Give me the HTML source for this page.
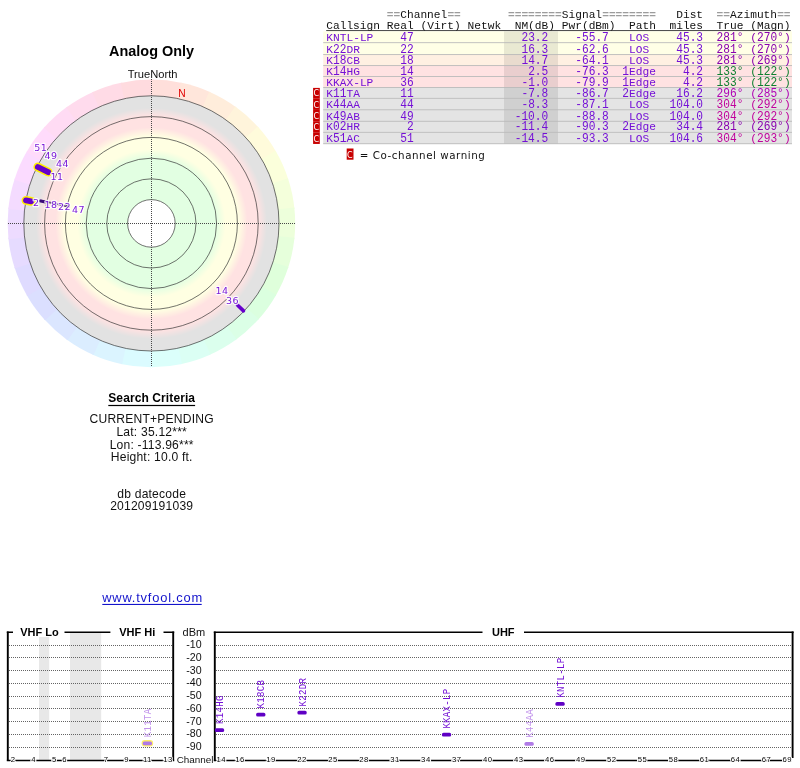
<!DOCTYPE html>
<html lang="en"><head><meta charset="utf-8"><title>TV Fool - Analog Only</title>
<style>html,body{margin:0;padding:0;background:#fff;}body{width:800px;height:768px;overflow:hidden;position:relative;}svg{position:absolute;left:0;top:0;display:block}text{font-family:"Liberation Sans", Arial, sans-serif;}.m{font-family:"Liberation Mono", "DejaVu Sans Mono", monospace;font-size:11.2px;}.lb{font-family:"DejaVu Sans", "Liberation Sans", sans-serif;font-size:9.5px;letter-spacing:0.45px;fill:#7a1ad8;stroke:#fff;stroke-width:2.4px;stroke-opacity:.85;paint-order:stroke;stroke-linejoin:round}.cs{font-family:"Liberation Mono", "DejaVu Sans Mono", monospace;font-size:9px;letter-spacing:0.35px}.ch{font-size:7.7px;letter-spacing:0.5px;fill:#000;stroke:#fff;stroke-width:2px;paint-order:stroke;text-anchor:middle}.ax{font-size:10.6px;text-anchor:end;fill:#111}</style></head><body>
<svg width="800" height="768" viewBox="0 0 800 768">
<defs><radialGradient id="rg" gradientUnits="userSpaceOnUse" cx="151.4" cy="223.4" r="127.6">
<stop offset="0.0000" stop-color="#ffffff"/>
<stop offset="0.1865" stop-color="#ffffff"/>
<stop offset="0.1865" stop-color="#e2ffe2"/>
<stop offset="0.5055" stop-color="#e2ffe2"/>
<stop offset="0.5799" stop-color="#ffffe2"/>
<stop offset="0.6818" stop-color="#ffffe2"/>
<stop offset="0.7524" stop-color="#ffe2e2"/>
<stop offset="0.8386" stop-color="#ffe2e2"/>
<stop offset="0.9052" stop-color="#e2e2e2"/>
<stop offset="1.0000" stop-color="#e2e2e2"/>
</radialGradient></defs>
<path d="M151.4 223.4L150.65 79.60A143.8 143.8 0 0 1 182.03 82.90Z" fill="#ffdfdb"/>
<path d="M151.4 223.4L180.56 82.59A143.8 143.8 0 0 1 210.58 92.34Z" fill="#ffe6db"/>
<path d="M151.4 223.4L209.20 91.73A143.8 143.8 0 0 1 236.53 107.51Z" fill="#ffeddb"/>
<path d="M151.4 223.4L235.31 106.62A143.8 143.8 0 0 1 258.77 127.74Z" fill="#fff4db"/>
<path d="M151.4 223.4L257.76 126.62A143.8 143.8 0 0 1 276.31 152.15Z" fill="#fffbdb"/>
<path d="M151.4 223.4L275.56 150.85A143.8 143.8 0 0 1 288.39 179.68Z" fill="#fbffdb"/>
<path d="M151.4 223.4L287.93 178.25A143.8 143.8 0 0 1 294.49 209.12Z" fill="#f4ffdb"/>
<path d="M151.4 223.4L294.33 207.62A143.8 143.8 0 0 1 294.33 239.18Z" fill="#edffdb"/>
<path d="M151.4 223.4L294.49 237.68A143.8 143.8 0 0 1 287.93 268.55Z" fill="#e6ffdb"/>
<path d="M151.4 223.4L288.39 267.12A143.8 143.8 0 0 1 275.56 295.95Z" fill="#dfffdb"/>
<path d="M151.4 223.4L276.31 294.65A143.8 143.8 0 0 1 257.76 320.18Z" fill="#dbffdf"/>
<path d="M151.4 223.4L258.77 319.06A143.8 143.8 0 0 1 235.31 340.18Z" fill="#dbffe6"/>
<path d="M151.4 223.4L236.53 339.29A143.8 143.8 0 0 1 209.20 355.07Z" fill="#dbffed"/>
<path d="M151.4 223.4L210.58 354.46A143.8 143.8 0 0 1 180.56 364.21Z" fill="#dbfff4"/>
<path d="M151.4 223.4L182.03 363.90A143.8 143.8 0 0 1 150.65 367.20Z" fill="#dbfffb"/>
<path d="M151.4 223.4L152.15 367.20A143.8 143.8 0 0 1 120.77 363.90Z" fill="#dbfbff"/>
<path d="M151.4 223.4L122.24 364.21A143.8 143.8 0 0 1 92.22 354.46Z" fill="#dbf4ff"/>
<path d="M151.4 223.4L93.60 355.07A143.8 143.8 0 0 1 66.27 339.29Z" fill="#dbedff"/>
<path d="M151.4 223.4L67.49 340.18A143.8 143.8 0 0 1 44.03 319.06Z" fill="#dbe6ff"/>
<path d="M151.4 223.4L45.04 320.18A143.8 143.8 0 0 1 26.49 294.65Z" fill="#dbdfff"/>
<path d="M151.4 223.4L27.24 295.95A143.8 143.8 0 0 1 14.41 267.12Z" fill="#dfdbff"/>
<path d="M151.4 223.4L14.87 268.55A143.8 143.8 0 0 1 8.31 237.68Z" fill="#e6dbff"/>
<path d="M151.4 223.4L8.47 239.18A143.8 143.8 0 0 1 8.47 207.62Z" fill="#eddbff"/>
<path d="M151.4 223.4L8.31 209.12A143.8 143.8 0 0 1 14.87 178.25Z" fill="#f4dbff"/>
<path d="M151.4 223.4L14.41 179.68A143.8 143.8 0 0 1 27.24 150.85Z" fill="#fbdbff"/>
<path d="M151.4 223.4L26.49 152.15A143.8 143.8 0 0 1 45.04 126.62Z" fill="#ffdbfb"/>
<path d="M151.4 223.4L44.03 127.74A143.8 143.8 0 0 1 67.49 106.62Z" fill="#ffdbf4"/>
<path d="M151.4 223.4L66.27 107.51A143.8 143.8 0 0 1 93.60 91.73Z" fill="#ffdbed"/>
<path d="M151.4 223.4L92.22 92.34A143.8 143.8 0 0 1 122.24 82.59Z" fill="#ffdbe6"/>
<path d="M151.4 223.4L120.77 82.90A143.8 143.8 0 0 1 152.15 79.60Z" fill="#ffdbdf"/>
<circle cx="151.4" cy="223.4" r="127.6" fill="url(#rg)"/>
<circle cx="151.4" cy="223.4" r="23.8" fill="none" stroke="#303030" stroke-width="0.68"/>
<circle cx="151.4" cy="223.4" r="44.6" fill="none" stroke="#303030" stroke-width="0.68"/>
<circle cx="151.4" cy="223.4" r="65.2" fill="none" stroke="#303030" stroke-width="0.68"/>
<circle cx="151.4" cy="223.4" r="86" fill="none" stroke="#303030" stroke-width="0.68"/>
<circle cx="151.4" cy="223.4" r="106.8" fill="none" stroke="#303030" stroke-width="0.68"/>
<circle cx="151.4" cy="223.4" r="127.6" fill="none" stroke="#303030" stroke-width="0.68"/>
<path d="M7.5 223.5H295.5M151.5 79V367" stroke="#484848" stroke-width="1" stroke-dasharray="1 1" fill="none" shape-rendering="crispEdges"/>
<text x="178.2" y="96.8" font-size="10.2" fill="#e00000">N</text>
<path d="M40.71 200.68L69.12 206.51" stroke="#2a0850" stroke-width="1.8" stroke-linecap="round" fill="none" />
<path d="M40.63 201.06L45.53 202.05" stroke="#3a0a78" stroke-width="3" stroke-linecap="round" fill="none" />
<path d="M37.82 167.02L48.21 172.18" stroke="#ffee00" stroke-width="8.8" stroke-linecap="round" fill="none" />
<path d="M37.82 167.02L48.21 172.18" stroke="#6600cc" stroke-width="5.8" stroke-linecap="round" fill="none" />
<path d="M25.99 200.38L31.21 201.34" stroke="#ffee00" stroke-width="8.8" stroke-linecap="round" fill="none" />
<path d="M25.99 200.38L31.21 201.34" stroke="#6600cc" stroke-width="5.8" stroke-linecap="round" fill="none" />
<path d="M243.52 310.82L237.43 305.04" stroke="#6600cc" stroke-width="3.6" stroke-linecap="round" fill="none" />
<text class="lb" x="34.3" y="150.6">51</text>
<text class="lb" x="44.5" y="159.2">49</text>
<text class="lb" x="56.1" y="167.2">44</text>
<text class="lb" x="50.4" y="179.8">11</text>
<text class="lb" x="33" y="206.2">2</text>
<text class="lb" x="44.4" y="207.6">18</text>
<text class="lb" x="58" y="209.6">22</text>
<text class="lb" x="72" y="212.9">47</text>
<text class="lb" x="215.4" y="294">14</text>
<text class="lb" x="226" y="304">36</text>
<text x="151.6" y="55.8" font-size="14.45" font-weight="bold" text-anchor="middle" fill="#000">Analog Only</text>
<text x="152.6" y="78" font-size="11.15" text-anchor="middle" fill="#111">TrueNorth</text>
<text x="151.7" y="401.8" font-size="12" font-weight="bold" text-anchor="middle" letter-spacing="0.1" fill="#000">Search Criteria</text>
<rect x="108.3" y="404.9" width="86.8" height="1.2" fill="#000"/>
<text x="151.7" y="423.3" font-size="12.1" text-anchor="middle" letter-spacing="0.2" fill="#111">CURRENT+PENDING</text>
<text x="151.7" y="436.4" font-size="12.1" text-anchor="middle" letter-spacing="0.2" fill="#111">Lat: 35.12***</text>
<text x="151.7" y="448.8" font-size="12.1" text-anchor="middle" letter-spacing="0.2" fill="#111">Lon: -113.96***</text>
<text x="151.7" y="460.8" font-size="12.1" text-anchor="middle" letter-spacing="0.2" fill="#111">Height: 10.0 ft.</text>
<text x="151.7" y="497.6" font-size="12.1" text-anchor="middle" letter-spacing="0.2" fill="#111">db datecode</text>
<text x="151.7" y="509.9" font-size="12.1" text-anchor="middle" letter-spacing="0.2" fill="#111">201209191039</text>
<text x="152.6" y="602" font-size="12.9" text-anchor="middle" letter-spacing="0.8" fill="#1414cc">www.tvfool.com</text>
<rect x="102.3" y="603.9" width="99.4" height="1.1" fill="#1414cc"/>
<rect x="323.2" y="31.3" width="468.8" height="11.6" fill="#ffffe6"/>
<rect x="323.2" y="42.7" width="468.8" height="12.1" fill="#ffffe6"/>
<rect x="323.2" y="54.6" width="468.8" height="11.2" fill="#fff0e2"/>
<rect x="323.2" y="65.6" width="468.8" height="11.1" fill="#ffe2e2"/>
<rect x="323.2" y="76.5" width="468.8" height="11.2" fill="#ffe2e2"/>
<rect x="323.2" y="87.5" width="468.8" height="11" fill="#e4e4e4"/>
<rect x="323.2" y="98.3" width="468.8" height="11.7" fill="#e4e4e4"/>
<rect x="323.2" y="109.8" width="468.8" height="11.65" fill="#e4e4e4"/>
<rect x="323.2" y="121.25" width="468.8" height="11.25" fill="#e4e4e4"/>
<rect x="323.2" y="132.3" width="468.8" height="11.65" fill="#e4e4e4"/>
<rect x="504" y="31.3" width="54" height="112.45" fill="#000" fill-opacity="0.085"/>
<rect x="323.2" y="42.28" width="468.8" height="0.85" fill="#b8b8b8"/>
<rect x="323.2" y="54.18" width="468.8" height="0.85" fill="#b8b8b8"/>
<rect x="323.2" y="65.18" width="468.8" height="0.85" fill="#b8b8b8"/>
<rect x="323.2" y="76.08" width="468.8" height="0.85" fill="#b8b8b8"/>
<rect x="323.2" y="87.08" width="468.8" height="0.85" fill="#b8b8b8"/>
<rect x="323.2" y="97.88" width="468.8" height="0.85" fill="#b8b8b8"/>
<rect x="323.2" y="109.38" width="468.8" height="0.85" fill="#b8b8b8"/>
<rect x="323.2" y="120.83" width="468.8" height="0.85" fill="#b8b8b8"/>
<rect x="323.2" y="131.88" width="468.8" height="0.85" fill="#b8b8b8"/>
<rect x="323.2" y="143.33" width="468.8" height="0.85" fill="#b8b8b8"/>
<text class="m" x="386.82" y="17.5" fill="#9c9c9c" font-weight="bold">==</text>
<text class="m" x="400.28" y="17.5" fill="#111">Channel</text>
<text class="m" x="447.39" y="17.5" fill="#9c9c9c" font-weight="bold">==</text>
<text class="m" x="507.96" y="17.5" fill="#9c9c9c" font-weight="bold">========</text>
<text class="m" x="561.80" y="17.5" fill="#111">Signal</text>
<text class="m" x="602.18" y="17.5" fill="#9c9c9c" font-weight="bold">========</text>
<text class="m" x="676.21" y="17.5" fill="#111">Dist</text>
<text class="m" x="716.59" y="17.5" fill="#9c9c9c" font-weight="bold">==</text>
<text class="m" x="730.05" y="17.5" fill="#111">Azimuth</text>
<text class="m" x="777.16" y="17.5" fill="#9c9c9c" font-weight="bold">==</text>
<text class="m" x="326.25" y="28.75" fill="#111">Callsign</text>
<text class="m" x="386.82" y="28.75" fill="#111">Real</text>
<text class="m" x="420.47" y="28.75" fill="#111">(Virt)</text>
<text class="m" x="467.58" y="28.75" fill="#111">Netwk</text>
<text class="m" x="514.69" y="28.75" fill="#111">NM(dB)</text>
<text class="m" x="561.80" y="28.75" fill="#111">Pwr(dBm)</text>
<text class="m" x="629.10" y="28.75" fill="#111">Path</text>
<text class="m" x="669.48" y="28.75" fill="#111">miles</text>
<text class="m" x="716.59" y="28.75" fill="#111">True</text>
<text class="m" x="750.24" y="28.75" fill="#111">(Magn)</text>
<rect x="326.2" y="30.15" width="464.5" height="0.9" fill="#333"/>
<text class="m" x="326.25" y="40.7" fill="#7410d6">KNTL</text>
<text class="m" x="353.17" y="40.7" fill="#7410d6">-</text>
<text class="m" x="359.90" y="40.7" fill="#7410d6">LP</text>
<text class="m" transform="translate(400.28 40.7) scale(1 1.14)" fill="#7410d6">47</text>
<text class="m" transform="translate(521.42 40.7) scale(1 1.14)" fill="#7410d6">23.2</text>
<text class="m" transform="translate(575.26 40.7) scale(1 1.14)" fill="#7410d6">-55.7</text>
<text class="m" x="629.10" y="40.7" fill="#7410d6">LOS</text>
<text class="m" transform="translate(676.21 40.7) scale(1 1.14)" fill="#7410d6">45.3</text>
<text class="m" transform="translate(716.59 40.7) scale(1 1.14)" fill="#8800b0">281°</text>
<text class="m" x="750.24" y="40.7" fill="#8800b0">(</text>
<text class="m" transform="translate(756.97 40.7) scale(1 1.14)" fill="#8800b0">270°</text>
<text class="m" x="783.89" y="40.7" fill="#8800b0">)</text>
<text class="m" x="326.25" y="52.6" fill="#7410d6">K</text>
<text class="m" transform="translate(332.98 52.6) scale(1 1.14)" fill="#7410d6">22</text>
<text class="m" x="346.44" y="52.6" fill="#7410d6">DR</text>
<text class="m" transform="translate(400.28 52.6) scale(1 1.14)" fill="#7410d6">22</text>
<text class="m" transform="translate(521.42 52.6) scale(1 1.14)" fill="#7410d6">16.3</text>
<text class="m" transform="translate(575.26 52.6) scale(1 1.14)" fill="#7410d6">-62.6</text>
<text class="m" x="629.10" y="52.6" fill="#7410d6">LOS</text>
<text class="m" transform="translate(676.21 52.6) scale(1 1.14)" fill="#7410d6">45.3</text>
<text class="m" transform="translate(716.59 52.6) scale(1 1.14)" fill="#8800b0">281°</text>
<text class="m" x="750.24" y="52.6" fill="#8800b0">(</text>
<text class="m" transform="translate(756.97 52.6) scale(1 1.14)" fill="#8800b0">270°</text>
<text class="m" x="783.89" y="52.6" fill="#8800b0">)</text>
<text class="m" x="326.25" y="63.6" fill="#7410d6">K</text>
<text class="m" transform="translate(332.98 63.6) scale(1 1.14)" fill="#7410d6">18</text>
<text class="m" x="346.44" y="63.6" fill="#7410d6">CB</text>
<text class="m" transform="translate(400.28 63.6) scale(1 1.14)" fill="#7410d6">18</text>
<text class="m" transform="translate(521.42 63.6) scale(1 1.14)" fill="#7410d6">14.7</text>
<text class="m" transform="translate(575.26 63.6) scale(1 1.14)" fill="#7410d6">-64.1</text>
<text class="m" x="629.10" y="63.6" fill="#7410d6">LOS</text>
<text class="m" transform="translate(676.21 63.6) scale(1 1.14)" fill="#7410d6">45.3</text>
<text class="m" transform="translate(716.59 63.6) scale(1 1.14)" fill="#8800b0">281°</text>
<text class="m" x="750.24" y="63.6" fill="#8800b0">(</text>
<text class="m" transform="translate(756.97 63.6) scale(1 1.14)" fill="#8800b0">269°</text>
<text class="m" x="783.89" y="63.6" fill="#8800b0">)</text>
<text class="m" x="326.25" y="74.5" fill="#7410d6">K</text>
<text class="m" transform="translate(332.98 74.5) scale(1 1.14)" fill="#7410d6">14</text>
<text class="m" x="346.44" y="74.5" fill="#7410d6">HG</text>
<text class="m" transform="translate(400.28 74.5) scale(1 1.14)" fill="#7410d6">14</text>
<text class="m" transform="translate(528.15 74.5) scale(1 1.14)" fill="#7410d6">2.5</text>
<text class="m" transform="translate(575.26 74.5) scale(1 1.14)" fill="#7410d6">-76.3</text>
<text class="m" transform="translate(622.37 74.5) scale(1 1.14)" fill="#7410d6">1</text>
<text class="m" x="629.10" y="74.5" fill="#7410d6">Edge</text>
<text class="m" transform="translate(682.94 74.5) scale(1 1.14)" fill="#7410d6">4.2</text>
<text class="m" transform="translate(716.59 74.5) scale(1 1.14)" fill="#0e8030">133°</text>
<text class="m" x="750.24" y="74.5" fill="#0e8030">(</text>
<text class="m" transform="translate(756.97 74.5) scale(1 1.14)" fill="#0e8030">122°</text>
<text class="m" x="783.89" y="74.5" fill="#0e8030">)</text>
<text class="m" x="326.25" y="85.5" fill="#7410d6">KKAX</text>
<text class="m" x="353.17" y="85.5" fill="#7410d6">-</text>
<text class="m" x="359.90" y="85.5" fill="#7410d6">LP</text>
<text class="m" transform="translate(400.28 85.5) scale(1 1.14)" fill="#7410d6">36</text>
<text class="m" transform="translate(521.42 85.5) scale(1 1.14)" fill="#7410d6">-1.0</text>
<text class="m" transform="translate(575.26 85.5) scale(1 1.14)" fill="#7410d6">-79.9</text>
<text class="m" transform="translate(622.37 85.5) scale(1 1.14)" fill="#7410d6">1</text>
<text class="m" x="629.10" y="85.5" fill="#7410d6">Edge</text>
<text class="m" transform="translate(682.94 85.5) scale(1 1.14)" fill="#7410d6">4.2</text>
<text class="m" transform="translate(716.59 85.5) scale(1 1.14)" fill="#0e8030">133°</text>
<text class="m" x="750.24" y="85.5" fill="#0e8030">(</text>
<text class="m" transform="translate(756.97 85.5) scale(1 1.14)" fill="#0e8030">122°</text>
<text class="m" x="783.89" y="85.5" fill="#0e8030">)</text>
<text class="m" x="326.25" y="96.6" fill="#7410d6">K</text>
<text class="m" transform="translate(332.98 96.6) scale(1 1.14)" fill="#7410d6">11</text>
<text class="m" x="346.44" y="96.6" fill="#7410d6">TA</text>
<text class="m" transform="translate(400.28 96.6) scale(1 1.14)" fill="#7410d6">11</text>
<text class="m" transform="translate(521.42 96.6) scale(1 1.14)" fill="#7410d6">-7.8</text>
<text class="m" transform="translate(575.26 96.6) scale(1 1.14)" fill="#7410d6">-86.7</text>
<text class="m" transform="translate(622.37 96.6) scale(1 1.14)" fill="#7410d6">2</text>
<text class="m" x="629.10" y="96.6" fill="#7410d6">Edge</text>
<text class="m" transform="translate(676.21 96.6) scale(1 1.14)" fill="#7410d6">16.2</text>
<text class="m" transform="translate(716.59 96.6) scale(1 1.14)" fill="#b000b4">296°</text>
<text class="m" x="750.24" y="96.6" fill="#b000b4">(</text>
<text class="m" transform="translate(756.97 96.6) scale(1 1.14)" fill="#b000b4">285°</text>
<text class="m" x="783.89" y="96.6" fill="#b000b4">)</text>
<rect x="313.1" y="87.9" width="6.7" height="10.5" fill="#c80000"/>
<text x="316.2" y="96.4" font-size="8" fill="#fff" text-anchor="middle" style="font-family:'DejaVu Sans', 'Liberation Sans', sans-serif">C</text>
<text class="m" x="326.25" y="108.1" fill="#7410d6">K</text>
<text class="m" transform="translate(332.98 108.1) scale(1 1.14)" fill="#7410d6">44</text>
<text class="m" x="346.44" y="108.1" fill="#7410d6">AA</text>
<text class="m" transform="translate(400.28 108.1) scale(1 1.14)" fill="#7410d6">44</text>
<text class="m" transform="translate(521.42 108.1) scale(1 1.14)" fill="#7410d6">-8.3</text>
<text class="m" transform="translate(575.26 108.1) scale(1 1.14)" fill="#7410d6">-87.1</text>
<text class="m" x="629.10" y="108.1" fill="#7410d6">LOS</text>
<text class="m" transform="translate(669.48 108.1) scale(1 1.14)" fill="#7410d6">104.0</text>
<text class="m" transform="translate(716.59 108.1) scale(1 1.14)" fill="#c0009c">304°</text>
<text class="m" x="750.24" y="108.1" fill="#c0009c">(</text>
<text class="m" transform="translate(756.97 108.1) scale(1 1.14)" fill="#c0009c">292°</text>
<text class="m" x="783.89" y="108.1" fill="#c0009c">)</text>
<rect x="313.1" y="98.3" width="6.7" height="11.6" fill="#c80000"/>
<text x="316.2" y="107.9" font-size="8" fill="#fff" text-anchor="middle" style="font-family:'DejaVu Sans', 'Liberation Sans', sans-serif">C</text>
<text class="m" x="326.25" y="119.55" fill="#7410d6">K</text>
<text class="m" transform="translate(332.98 119.55) scale(1 1.14)" fill="#7410d6">49</text>
<text class="m" x="346.44" y="119.55" fill="#7410d6">AB</text>
<text class="m" transform="translate(400.28 119.55) scale(1 1.14)" fill="#7410d6">49</text>
<text class="m" transform="translate(514.69 119.55) scale(1 1.14)" fill="#7410d6">-10.0</text>
<text class="m" transform="translate(575.26 119.55) scale(1 1.14)" fill="#7410d6">-88.8</text>
<text class="m" x="629.10" y="119.55" fill="#7410d6">LOS</text>
<text class="m" transform="translate(669.48 119.55) scale(1 1.14)" fill="#7410d6">104.0</text>
<text class="m" transform="translate(716.59 119.55) scale(1 1.14)" fill="#c0009c">304°</text>
<text class="m" x="750.24" y="119.55" fill="#c0009c">(</text>
<text class="m" transform="translate(756.97 119.55) scale(1 1.14)" fill="#c0009c">292°</text>
<text class="m" x="783.89" y="119.55" fill="#c0009c">)</text>
<rect x="313.1" y="109.8" width="6.7" height="11.55" fill="#c80000"/>
<text x="316.2" y="119.35" font-size="8" fill="#fff" text-anchor="middle" style="font-family:'DejaVu Sans', 'Liberation Sans', sans-serif">C</text>
<text class="m" x="326.25" y="130.3" fill="#7410d6">K</text>
<text class="m" transform="translate(332.98 130.3) scale(1 1.14)" fill="#7410d6">02</text>
<text class="m" x="346.44" y="130.3" fill="#7410d6">HR</text>
<text class="m" transform="translate(407.01 130.3) scale(1 1.14)" fill="#7410d6">2</text>
<text class="m" transform="translate(514.69 130.3) scale(1 1.14)" fill="#7410d6">-11.4</text>
<text class="m" transform="translate(575.26 130.3) scale(1 1.14)" fill="#7410d6">-90.3</text>
<text class="m" transform="translate(622.37 130.3) scale(1 1.14)" fill="#7410d6">2</text>
<text class="m" x="629.10" y="130.3" fill="#7410d6">Edge</text>
<text class="m" transform="translate(676.21 130.3) scale(1 1.14)" fill="#7410d6">34.4</text>
<text class="m" transform="translate(716.59 130.3) scale(1 1.14)" fill="#8800b0">281°</text>
<text class="m" x="750.24" y="130.3" fill="#8800b0">(</text>
<text class="m" transform="translate(756.97 130.3) scale(1 1.14)" fill="#8800b0">269°</text>
<text class="m" x="783.89" y="130.3" fill="#8800b0">)</text>
<rect x="313.1" y="121.25" width="6.7" height="11.15" fill="#c80000"/>
<text x="316.2" y="130.4" font-size="8" fill="#fff" text-anchor="middle" style="font-family:'DejaVu Sans', 'Liberation Sans', sans-serif">C</text>
<text class="m" x="326.25" y="141.75" fill="#7410d6">K</text>
<text class="m" transform="translate(332.98 141.75) scale(1 1.14)" fill="#7410d6">51</text>
<text class="m" x="346.44" y="141.75" fill="#7410d6">AC</text>
<text class="m" transform="translate(400.28 141.75) scale(1 1.14)" fill="#7410d6">51</text>
<text class="m" transform="translate(514.69 141.75) scale(1 1.14)" fill="#7410d6">-14.5</text>
<text class="m" transform="translate(575.26 141.75) scale(1 1.14)" fill="#7410d6">-93.3</text>
<text class="m" x="629.10" y="141.75" fill="#7410d6">LOS</text>
<text class="m" transform="translate(669.48 141.75) scale(1 1.14)" fill="#7410d6">104.6</text>
<text class="m" transform="translate(716.59 141.75) scale(1 1.14)" fill="#c0009c">304°</text>
<text class="m" x="750.24" y="141.75" fill="#c0009c">(</text>
<text class="m" transform="translate(756.97 141.75) scale(1 1.14)" fill="#c0009c">293°</text>
<text class="m" x="783.89" y="141.75" fill="#c0009c">)</text>
<rect x="313.1" y="132.3" width="6.7" height="11.65" fill="#c80000"/>
<text x="316.2" y="141.85" font-size="8" fill="#fff" text-anchor="middle" style="font-family:'DejaVu Sans', 'Liberation Sans', sans-serif">C</text>
<rect x="346.7" y="148.5" width="6.8" height="11.2" fill="#c80000"/>
<text x="349.9" y="158.4" font-size="8" fill="#fff" text-anchor="middle" style="font-family:'DejaVu Sans', 'Liberation Sans', sans-serif">C</text>
<text x="359.8" y="158.5" font-size="10.3" letter-spacing="0.55" fill="#111" style="font-family:'DejaVu Sans', 'Liberation Sans', sans-serif">= Co-channel warning</text>
<rect x="39" y="637" width="10.2" height="123.5" fill="#e8e8e8"/>
<rect x="70" y="632.9" width="31.2" height="127.6" fill="#e8e8e8"/>
<path d="M9 645.5H172M216 645.5H792M9 657.5H172M216 657.5H792M9 670.5H172M216 670.5H792M9 683.5H172M216 683.5H792M9 696.5H172M216 696.5H792M9 708.5H172M216 708.5H792M9 721.5H172M216 721.5H792M9 734.5H172M216 734.5H792M9 747.5H172M216 747.5H792" stroke="#646464" stroke-width="1" stroke-dasharray="1 1" fill="none" shape-rendering="crispEdges"/>
<path d="M7.8 631.6V760.6M173.2 631.6V760.6" stroke="#000" stroke-width="1.9" fill="none"/>
<path d="M6.8 632.2H13M64.5 632.2H110.4M163.5 632.2H174.2" stroke="#000" stroke-width="1.5" fill="none"/>
<path d="M6.8 760.5H174.2" stroke="#000" stroke-width="1.3" fill="none"/>
<path d="M214.8 631.6V760.6M792.6 631.6V758" stroke="#000" stroke-width="1.9" fill="none"/>
<path d="M213.8 632.2H482.5M524 632.2H793.6" stroke="#000" stroke-width="1.5" fill="none"/>
<path d="M213.8 760.5H792" stroke="#000" stroke-width="1.3" fill="none"/>
<text x="20.2" y="636.2" font-size="11" font-weight="bold" fill="#000">VHF Lo</text>
<text x="119.2" y="636.2" font-size="11" font-weight="bold" fill="#000">VHF Hi</text>
<text x="503.3" y="636.2" font-size="11" font-weight="bold" fill="#000" text-anchor="middle">UHF</text>
<text x="182.6" y="635.8" font-size="11" fill="#111">dBm</text>
<text class="ax" x="201.6" y="648.1">-10</text>
<text class="ax" x="201.6" y="660.85">-20</text>
<text class="ax" x="201.6" y="673.6">-30</text>
<text class="ax" x="201.6" y="686.35">-40</text>
<text class="ax" x="201.6" y="699.1">-50</text>
<text class="ax" x="201.6" y="711.85">-60</text>
<text class="ax" x="201.6" y="724.6">-70</text>
<text class="ax" x="201.6" y="737.35">-80</text>
<text class="ax" x="201.6" y="750.1">-90</text>
<text x="176.7" y="762.8" font-size="9.9" fill="#111">Channel</text>
<text class="ch" x="13.1" y="761.9">2</text>
<text class="ch" x="33.76" y="761.9">4</text>
<text class="ch" x="54.42" y="761.9">5</text>
<text class="ch" x="64.75" y="761.9">6</text>
<text class="ch" x="106.07" y="761.9">7</text>
<text class="ch" x="126.73" y="761.9">9</text>
<text class="ch" x="147.39" y="761.9">11</text>
<text class="ch" x="168.05" y="761.9">13</text>
<text class="ch" x="221.2" y="761.9">14</text>
<text class="ch" x="240.14" y="761.9">16</text>
<text class="ch" x="271.1" y="761.9">19</text>
<text class="ch" x="302.06" y="761.9">22</text>
<text class="ch" x="333.02" y="761.9">25</text>
<text class="ch" x="363.98" y="761.9">28</text>
<text class="ch" x="394.94" y="761.9">31</text>
<text class="ch" x="425.9" y="761.9">34</text>
<text class="ch" x="456.86" y="761.9">37</text>
<text class="ch" x="487.82" y="761.9">40</text>
<text class="ch" x="518.78" y="761.9">43</text>
<text class="ch" x="549.74" y="761.9">46</text>
<text class="ch" x="580.7" y="761.9">49</text>
<text class="ch" x="611.66" y="761.9">52</text>
<text class="ch" x="642.62" y="761.9">55</text>
<text class="ch" x="673.58" y="761.9">58</text>
<text class="ch" x="704.54" y="761.9">61</text>
<text class="ch" x="735.5" y="761.9">64</text>
<text class="ch" x="766.46" y="761.9">67</text>
<text class="ch" x="787.2" y="761.9">69</text>
<rect x="141.59" y="740.092" width="11.6" height="6.4" rx="3.2" fill="#ffee6a"/>
<rect x="142.74" y="741.493" width="9.3" height="3.8" rx="1.6" fill="#b07ae6"/>
<text class="cs" transform="translate(150.99 737.293) rotate(-90) scale(1 1.18)" fill="#c294ec">K11TA</text>
<rect x="214.85" y="728.233" width="9.3" height="3.8" rx="1.6" fill="#5f00c4"/>
<text class="cs" transform="translate(223.1 724.033) rotate(-90) scale(1 1.18)" fill="#7410d6">K14HG</text>
<rect x="256.13" y="712.678" width="9.3" height="3.8" rx="1.6" fill="#5f00c4"/>
<text class="cs" transform="translate(264.38 708.477) rotate(-90) scale(1 1.18)" fill="#7410d6">K18CB</text>
<rect x="297.41" y="710.765" width="9.3" height="3.8" rx="1.6" fill="#5f00c4"/>
<text class="cs" transform="translate(305.66 706.565) rotate(-90) scale(1 1.18)" fill="#7410d6">K22DR</text>
<rect x="441.89" y="732.822" width="9.3" height="3.8" rx="1.6" fill="#5f00c4"/>
<text class="cs" transform="translate(450.14 728.622) rotate(-90) scale(1 1.18)" fill="#7410d6">KKAX-LP</text>
<rect x="524.45" y="742.003" width="9.3" height="3.8" rx="1.6" fill="#b07ae6"/>
<text class="cs" transform="translate(532.7 737.803) rotate(-90) scale(1 1.18)" fill="#c294ec">K44AA</text>
<rect x="555.41" y="701.968" width="9.3" height="3.8" rx="1.6" fill="#5f00c4"/>
<text class="cs" transform="translate(563.66 697.768) rotate(-90) scale(1 1.18)" fill="#7410d6">KNTL-LP</text>
</svg></body></html>
